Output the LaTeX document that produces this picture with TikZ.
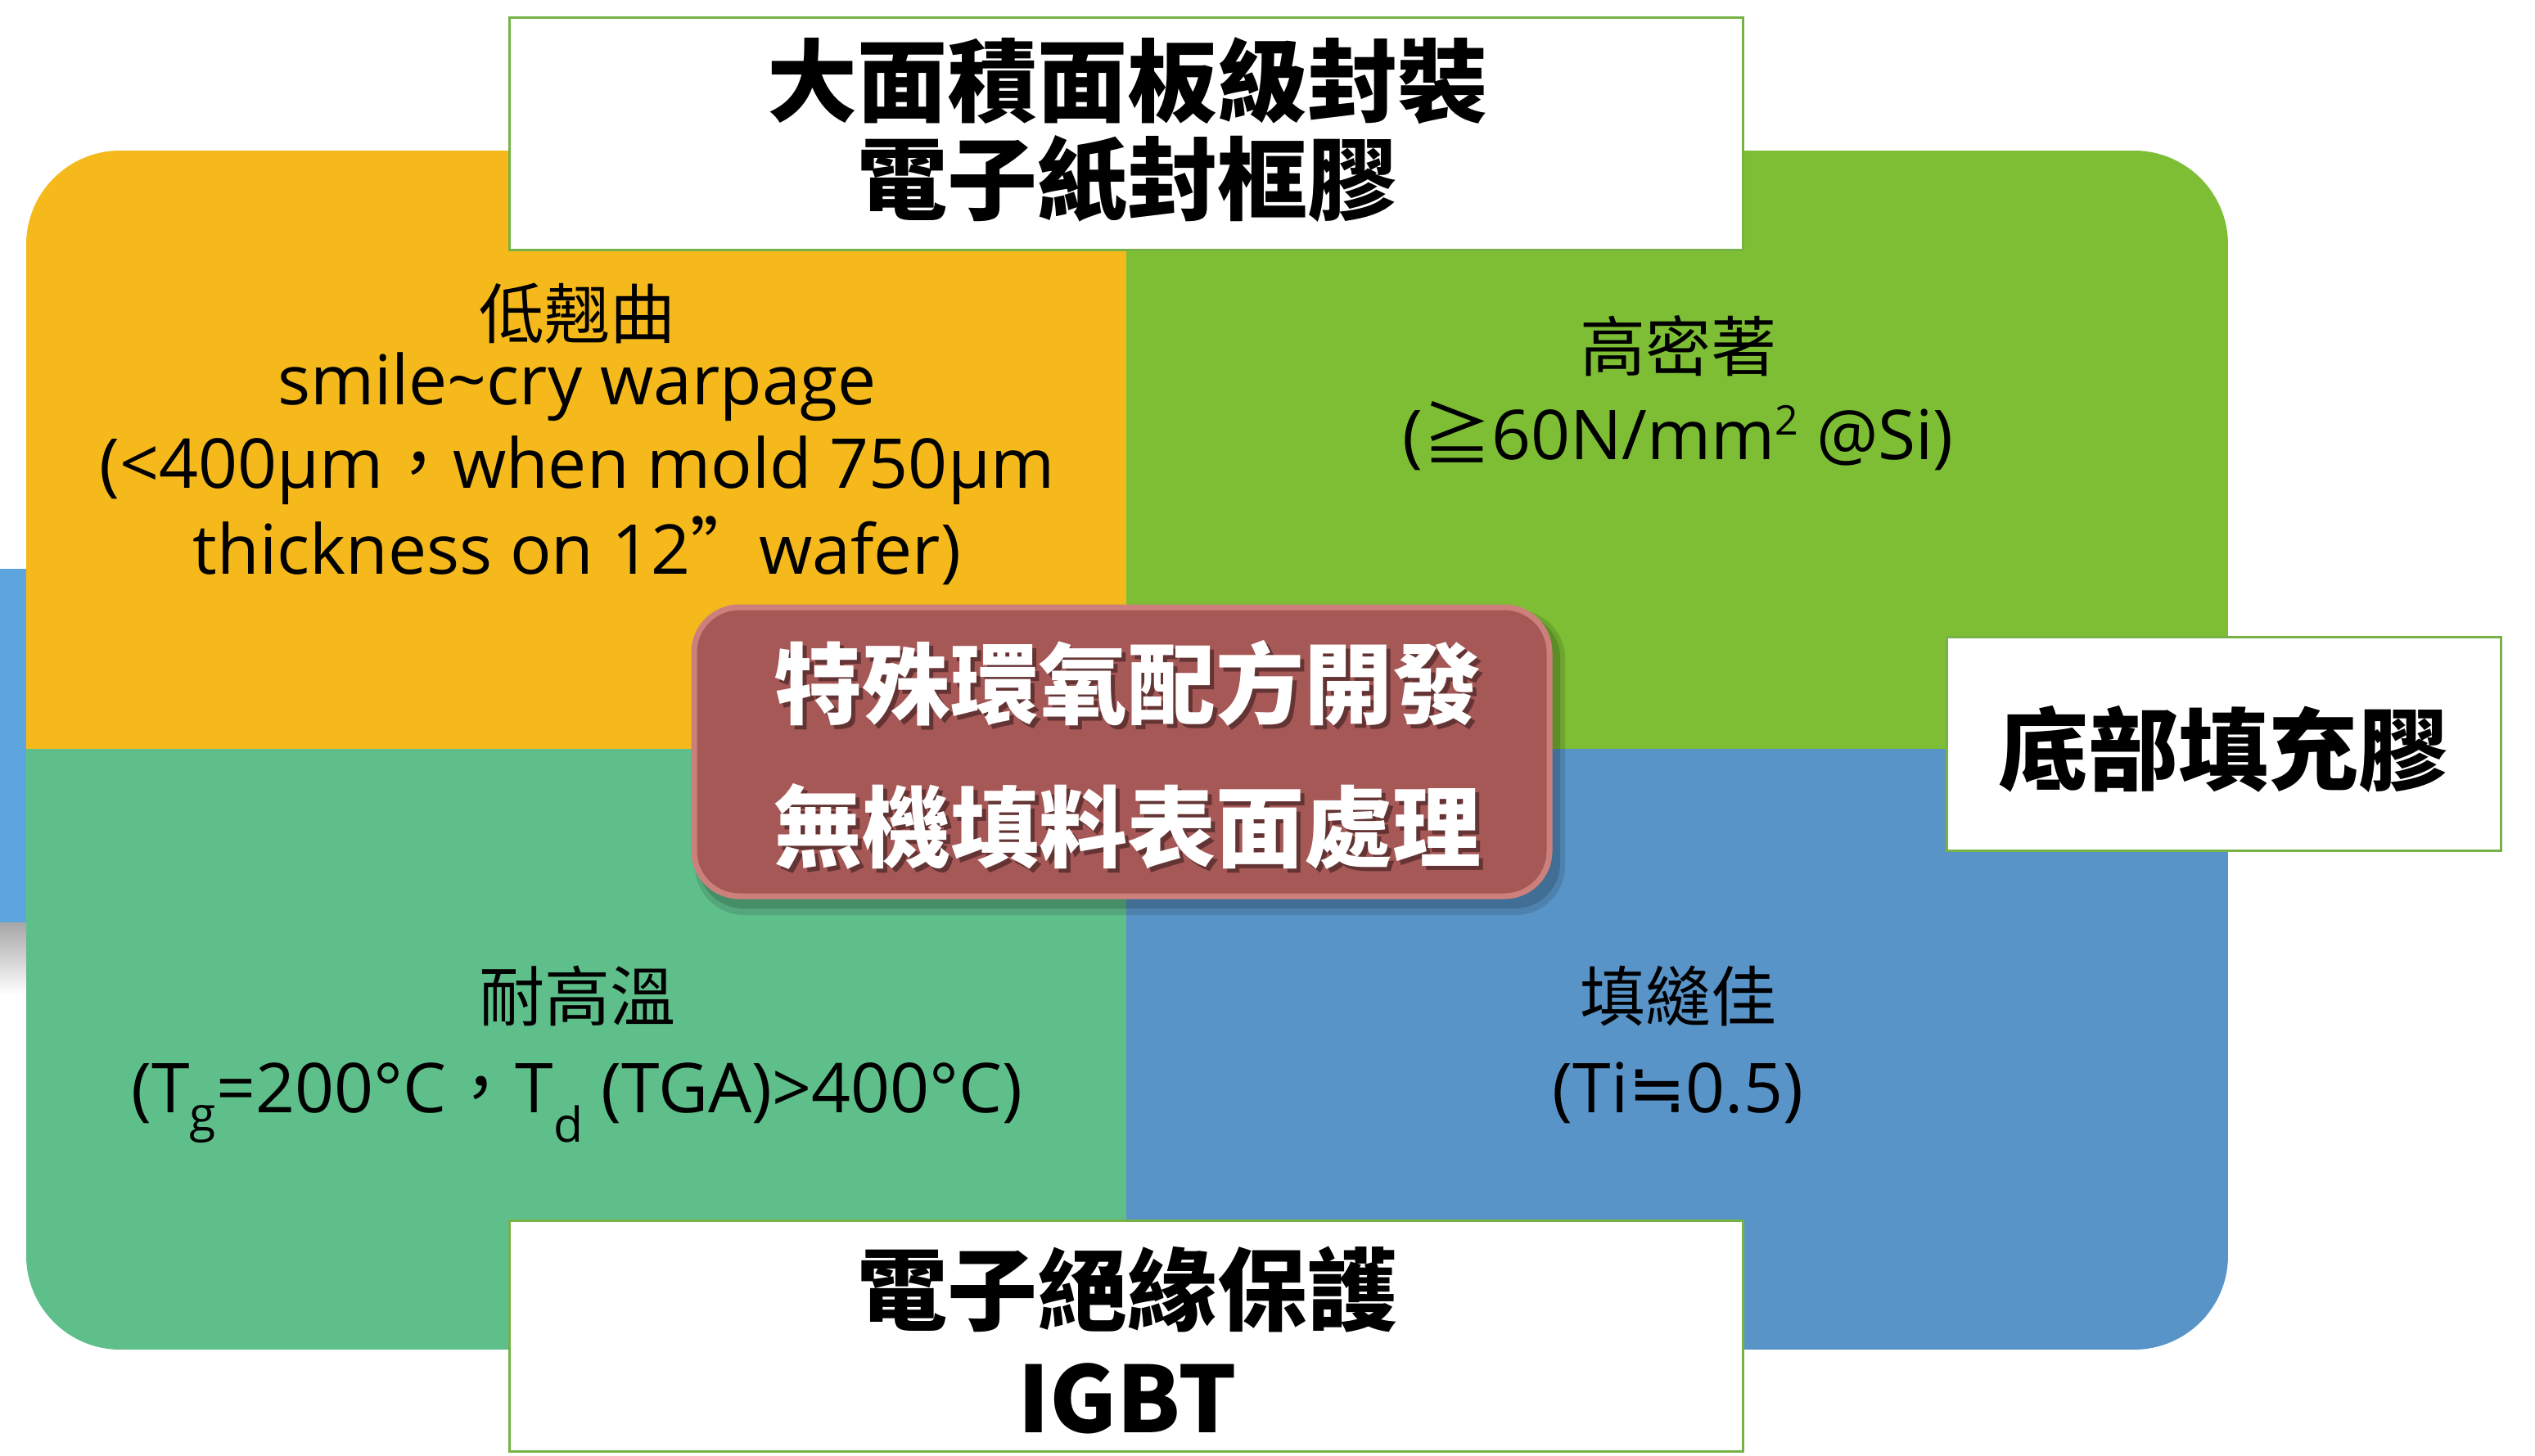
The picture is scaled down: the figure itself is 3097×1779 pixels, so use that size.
\documentclass[tikz,border=0pt]{standalone}
\usepackage{fontspec}
\setmainfont{Open Sans}
\newfontfamily\cjk{Noto Sans CJK TC}
\newfontfamily\symf{DejaVu Sans}
\definecolor{cyel}{RGB}{245,185,28}
\definecolor{cgrn}{RGB}{125,190,53}
\definecolor{cteal}{RGB}{95,191,139}
\definecolor{cblue}{RGB}{88,148,200}
\definecolor{cstrip}{RGB}{93,165,221}
\definecolor{cred}{RGB}{166,88,86}
\definecolor{credlt}{RGB}{204,128,124}
\definecolor{cbord}{RGB}{118,178,70}
\begin{document}
\begin{tikzpicture}[x=1pt,y=-1pt,
  labelbox/.style={draw=cbord, line width=3pt, fill=white, inner sep=0pt},
  qcjk/.style={font=\cjk\fontsize{80}{90}\selectfont, inner sep=0pt, anchor=center},
  qlat/.style={font=\fontsize{84}{96}\selectfont, inner sep=0pt, anchor=base},
  bcjk/.style={font=\cjk\bfseries\fontsize{110}{120}\selectfont, inner sep=0pt, anchor=center},
  wcjk/.style={font=\cjk\bfseries\fontsize{108}{120}\selectfont, inner sep=0pt, anchor=center, text=white},
  scjk/.style={font=\cjk\bfseries\fontsize{108}{120}\selectfont, inner sep=0pt, anchor=center, text=black, opacity=0.4}]

\useasboundingbox (0,0) rectangle (3097,1779);
\fill[white] (0,0) rectangle (3097,1779);

% left strip remnant
\fill[cstrip] (0,695) rectangle (32,1127);
\shade[top color=black!35, bottom color=white] (0,1127) rectangle (32,1215);

% four-coloured rounded panel
\begin{scope}
\clip[rounded corners=115pt] (32,184) rectangle (2722,1649);
\fill[cyel] (32,184) rectangle (1376,915);
\fill[cgrn] (1376,184) rectangle (2722,915);
\fill[cteal] (32,915) rectangle (1376,1649);
\fill[cblue] (1376,915) rectangle (2722,1649);
\end{scope}

% quadrant texts
\node[qcjk] (q1a) at (705,383) {低翹曲};
\node[qlat] (q1b) at (705,494) {smile\textasciitilde cry warpage};
\node[qlat] (q1c) at (705,596) {(<400μm{\cjk ，}when mold 750μm};
\node[qlat] (q1d) at (705,701) {thickness on 12{\cjk ”}wafer)};

\node[qcjk] (q2a) at (2050,423) {高密著};
\node[qlat] (q2b) at (2050,561) {({\cjk ≧}60N/mm\raisebox{0.35em}{\fontsize{50}{50}\selectfont 2} @Si)};

\node[qcjk] (q3a) at (705,1217) {耐高溫};
\node[qlat] (q3b) at (705,1359) {(T\textsubscript{g}=200°C{\cjk ，}T\textsubscript{d} (TGA)>400°C)};

\node[qcjk] (q4a) at (2050,1217) {填縫佳};
\node[qlat] (q4b) at (2050,1359) {(Ti{\symf ≒}0.5)};

% white label boxes
\node[labelbox, minimum width=1507pt, minimum height=284pt] (boxtop) at (1375.5,164) {};
\node[bcjk] (boxtopA) at (1377,99) {大面積面板級封裝};
\node[bcjk] (boxtopB) at (1377,219) {電子紙封框膠};

\node[labelbox, minimum width=1507pt, minimum height=282pt] (boxbot) at (1375.5,1632) {};
\node[bcjk] (boxbotA) at (1377,1576) {電子絕緣保護};
\node[bcjk, font=\cjk\bfseries\fontsize{112}{120}\selectfont] (boxbotB) at (1377,1709) {IGBT};

\node[labelbox, minimum width=677pt, minimum height=261pt] (boxright) at (2716.5,908.5) {};
\node[bcjk] (boxrightA) at (2716,915) {底部填充膠};

% central box
\fill[black, opacity=0.12, rounded corners=60pt] (849,745) rectangle (1912,1118);
\fill[black, opacity=0.15, rounded corners=55pt] (853,749) rectangle (1906,1110);
\node[fill=cred, draw=credlt, line width=7pt, rounded corners=55pt,
      minimum width=1045pt, minimum height=353pt, inner sep=0pt] (core) at (1370.5,918.5) {};
\node[scjk] (coreAs) at (1382,840) {特殊環氧配方開發};
\node[wcjk] (coreA) at (1377,835) {特殊環氧配方開發};
\node[scjk] (coreBs) at (1382,1015) {無機填料表面處理};
\node[wcjk] (coreB) at (1377,1010) {無機填料表面處理};
\end{tikzpicture}
\end{document}
